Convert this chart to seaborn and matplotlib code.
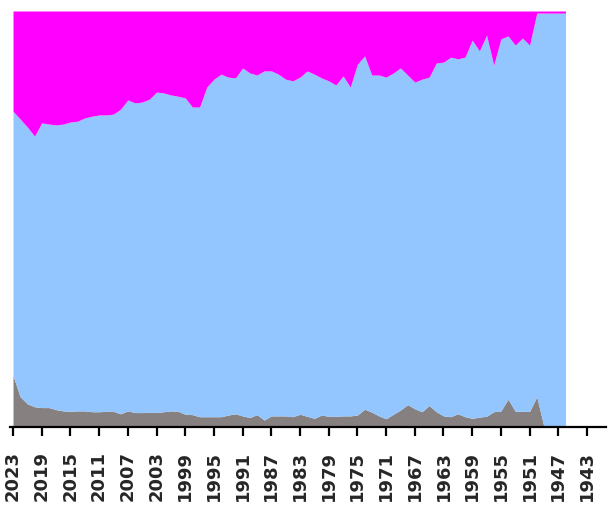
import matplotlib
matplotlib.use("Agg")
import matplotlib.pyplot as plt
import seaborn as sns
import numpy as np

years = list(range(2023, 1945, -1))

grey = [12.3, 7.2, 5.5, 4.8, 4.6, 4.6, 4.1, 3.8, 3.7, 3.8,
        3.8, 3.6, 3.6, 3.7, 3.7, 3.1, 3.8, 3.4, 3.4, 3.5,
        3.4, 3.6, 3.8, 3.7, 3.0, 2.9, 2.4, 2.4, 2.4, 2.4,
        2.8, 3.1, 2.6, 2.2, 2.9, 1.6, 2.6, 2.6, 2.6, 2.4,
        3.0, 2.5, 2.0, 2.8, 2.5, 2.5, 2.6, 2.6, 2.8, 4.2,
        3.5, 2.6, 1.9, 3.0, 4.0, 5.3, 4.3, 3.6, 5.1, 3.6,
        2.6, 2.4, 3.1, 2.4, 2.0, 2.3, 2.5, 3.6, 3.8, 6.6,
        3.7, 3.7, 3.7, 7.2, 0.0, 0.0, 0.0, 0.0]

blue = [63.6, 66.8, 66.6, 65.1, 68.5, 68.2, 68.5, 69.0, 69.6, 69.7,
        70.5, 71.1, 71.4, 71.3, 71.5, 73.3, 74.8, 74.5, 74.7, 75.3,
        77.1, 76.7, 76.0, 75.8, 76.1, 74.0, 74.5, 79.3, 81.2, 82.4,
        81.3, 80.8, 83.7, 82.9, 81.7, 84.0, 83.0, 82.2, 81.0, 80.8,
        81.1, 83.1, 82.8, 81.1, 80.7, 79.7, 81.8, 79.1, 84.4, 85.0,
        81.1, 82.0, 82.2, 82.1, 82.3, 79.3, 78.6, 80.0, 79.0, 83.9,
        85.1, 86.5, 85.4, 86.5, 91.0, 88.1, 91.7, 83.4, 89.5, 87.4,
        88.1, 89.8, 88.1, 92.3, 99.5, 99.5, 99.5, 99.5]

magenta = [24.1, 26.0, 27.9, 30.1, 26.9, 27.2, 27.4, 27.2, 26.7, 26.5,
           25.7, 25.3, 25.0, 25.0, 24.8, 23.6, 21.4, 22.1, 21.9, 21.2,
           19.5, 19.7, 20.2, 20.5, 20.9, 23.1, 23.1, 18.3, 16.4, 15.2,
           15.9, 16.1, 13.7, 14.9, 15.4, 14.4, 14.4, 15.2, 16.4, 16.8,
           15.9, 14.4, 15.2, 16.1, 16.8, 17.8, 15.6, 18.3, 12.8, 10.8,
           15.4, 15.4, 15.9, 14.9, 13.7, 15.4, 17.1, 16.4, 15.9, 12.5,
           12.3, 11.1, 11.5, 11.1, 7.0, 9.6, 5.8, 13.0, 6.7, 6.0,
           8.2, 6.5, 8.2, 0.5, 0.5, 0.5, 0.5, 0.5]

tick_years = list(range(2023, 1941, -4))

colors = ["#868081", "#93C5FE", "#FF00FF"]

sns.set_style("white")
plt.rcParams["font.family"] = ["DejaVu Sans"]

fig = plt.figure(figsize=(6.08, 5.10), dpi=100)
ax = fig.add_axes([10 / 608, 1 - 427.7 / 510, 596 / 608, (427.7 - 12) / 510])

ax.stackplot(years, grey, blue, magenta, colors=colors, linewidth=0)

ax.set_xlim(2023.42, 1940.35)
ax.set_ylim(0, 100)
ax.set_xticks(tick_years)
ax.set_xticklabels([str(y) for y in tick_years], rotation=90,
                   fontsize=13, fontweight="bold")
ax.set_yticks([])
for side in ["top", "right", "left"]:
    ax.spines[side].set_visible(False)
ax.spines["bottom"].set_linewidth(1.6)
ax.spines["bottom"].set_color("black")
ax.tick_params(axis="x", direction="out", length=6.5, width=1.6,
               color="black", pad=10, bottom=True)
ax.set_facecolor("white")

fig.savefig("out.png", dpi=100)
